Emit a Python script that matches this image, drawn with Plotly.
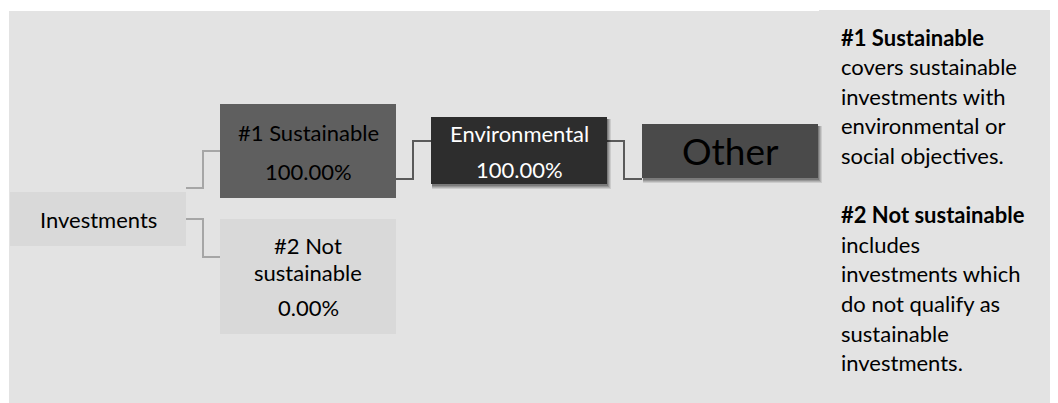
import plotly.graph_objects as go

# ---- data ----
node_names = ["Investments", "#1 Sustainable", "#2 Not sustainable", "Environmental", "Other"]
node_shares = [None, 100.00, 0.00, 100.00, None]
edges = [("Investments", "#1 Sustainable"), ("Investments", "#2 Not sustainable"),
         ("#1 Sustainable", "Environmental"), ("Environmental", "Other")]
legend_lines = [("#1 Sustainable", True), ("covers sustainable", False), ("investments with", False),
                ("environmental or", False), ("social objectives.", False), ("", False),
                ("#2 Not sustainable", True), ("includes", False), ("investments which", False),
                ("do not qualify as", False), ("sustainable", False), ("investments.", False)]

# ---- layout / style (positions in pixel-like data units of the 1058x403 page) ----
W, H = 1058, 403
PAGE_MARGIN = 8  # browser default body margin
FONT = "Lato"
box = {
    "Investments":        dict(x0=10, x1=186, y0=192, y1=246, fill="#d9d9d9", color="#000000", shadow=False),
    "#1 Sustainable":     dict(x0=220, x1=396, y0=104, y1=198, fill="#5f5f5f", color="#000000", shadow=False),
    "#2 Not sustainable": dict(x0=220, x1=396, y0=219, y1=334, fill="#d9d9d9", color="#000000", shadow=False),
    "Environmental":      dict(x0=431, x1=607, y0=117, y1=184, fill="#2d2d2d", color="#ffffff", shadow=True),
    "Other":              dict(x0=642, x1=818, y0=124, y1=178, fill="#4a4a4a", color="#000000", shadow=True),
}
label_lines = {
    "Investments": [("Investments", 219)],
    "#1 Sustainable": [("#1 Sustainable", 132), ("{share}", 171)],
    "#2 Not sustainable": [("#2 Not", 245), ("sustainable", 272), ("{share}", 307)],
    "Environmental": [("Environmental", 133), ("{share}", 169)],
    "Other": [("Other", 150)],
}
label_size = {"Other": 37}
TEXT_SIZE = 22
edge_route = {  # (x_start, y_start, x_mid, y_end, x_end, colour)
    ("Investments", "#1 Sustainable"): (186, 188, 203, 151, 220, "#a6a6a6"),
    ("Investments", "#2 Not sustainable"): (186, 219, 203, 257, 220, "#a6a6a6"),
    ("#1 Sustainable", "Environmental"): (396, 179, 413, 141, 431, "#5a5a5a"),
    ("Environmental", "Other"): (607, 141, 624, 179, 642, "#5a5a5a"),
}

shapes = []
shapes.append(dict(type="rect", x0=9, x1=819, y0=11, y1=H, fillcolor="#e3e3e3", line_width=0, layer="below"))
shapes.append(dict(type="rect", x0=819, x1=W, y0=10, y1=H, fillcolor="#e3e3e3", line_width=0, layer="below"))

for e in edges:
    xs, ys, xm, ye, xe, col = edge_route[e]
    shapes.append(dict(type="path", path=f"M{xs},{ys} L{xm},{ys} L{xm},{ye} L{xe},{ye}",
                       line=dict(color=col, width=2)))

for name in node_names:
    b = box[name]
    if b["shadow"]:
        for k, op in [(5, 0.10), (4, 0.12), (3, 0.15), (2, 0.18)]:
            shapes.append(dict(type="rect", x0=b["x0"] + 1, x1=b["x1"] + k - 1, y0=b["y0"] + 2, y1=b["y1"] + k,
                               fillcolor="#000000", opacity=op, line_width=0))
    shapes.append(dict(type="rect", x0=b["x0"], x1=b["x1"], y0=b["y0"], y1=b["y1"],
                       fillcolor=b["fill"], line_width=0))

annotations = []
for name, share in zip(node_names, node_shares):
    b = box[name]
    xc = (b["x0"] + b["x1"]) / 2
    for txt, yc in label_lines[name]:
        if txt == "{share}":
            txt = f"{share:.2f}%"
        annotations.append(dict(x=xc, y=yc, text=txt, showarrow=False, xanchor="center", yanchor="middle",
                                font=dict(family=FONT, size=label_size.get(name, TEXT_SIZE), color=b["color"])))

y0, dy = 37, 29.6
for i, (txt, bold) in enumerate(legend_lines):
    if not txt:
        continue
    annotations.append(dict(x=839, y=y0 + i * dy, text=f"<b>{txt}</b>" if bold else txt, showarrow=False,
                            xanchor="left", yanchor="middle",
                            font=dict(family=FONT, size=TEXT_SIZE, color="#000000")))

fig = go.Figure()
fig.add_trace(go.Scatter(x=[PAGE_MARGIN, W], y=[PAGE_MARGIN, H], mode="markers", marker=dict(opacity=0),
                         hoverinfo="skip", showlegend=False))
fig.update_layout(
    width=W - PAGE_MARGIN, height=H - PAGE_MARGIN, margin=dict(l=0, r=0, t=0, b=0),
    paper_bgcolor="#ffffff", plot_bgcolor="#ffffff",
    xaxis=dict(range=[PAGE_MARGIN, W], visible=False, fixedrange=True),
    yaxis=dict(range=[H, PAGE_MARGIN], visible=False, fixedrange=True),
    shapes=shapes, annotations=annotations, showlegend=False,
)
fig.write_html("out.html", config={"displayModeBar": False})
